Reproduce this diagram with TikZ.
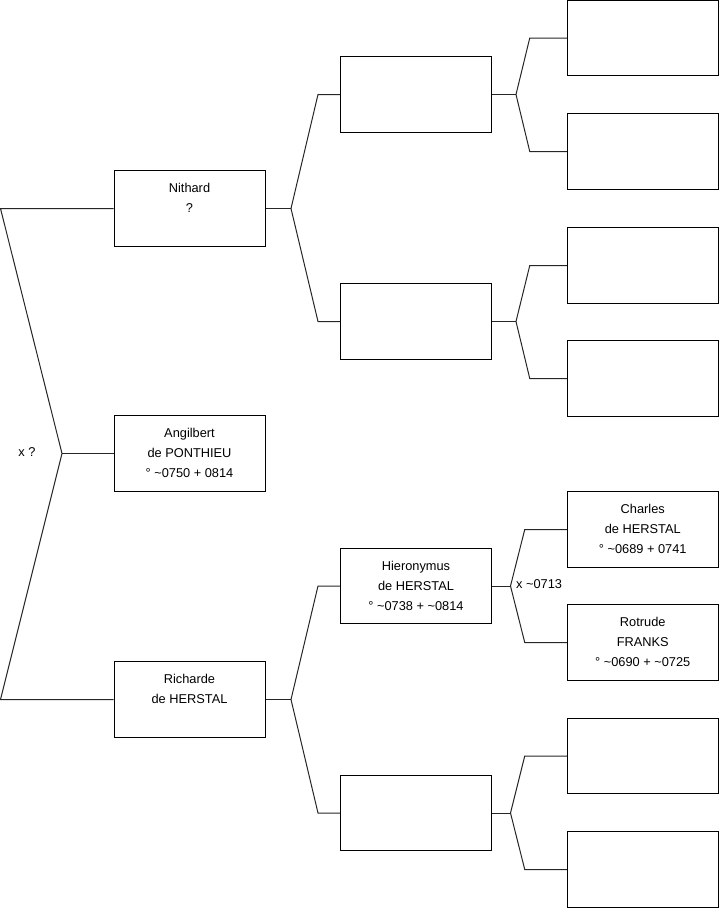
\documentclass[tikz,border=0pt]{standalone}
\usepackage{fontspec}
\setmainfont{Liberation Sans}
\begin{document}
\begin{tikzpicture}[x=1pt,y=-1pt,
  person/.style={draw=black, line width=1pt, minimum width=151pt, minimum height=75.5pt,
    inner sep=0pt, align=center, font=\fontsize{12.8}{20}\selectfont},
  link/.style={draw=black!85, line width=1pt},
  lbl/.style={font=\fontsize{12.8}{20}\selectfont, inner sep=0pt}]
\useasboundingbox (0,0) rectangle (719,908);
% column 1
\node[person] (n1) at (189.5,208.5) {\strut Nithard\\\strut ?\\\strut};
\node[person] (n2) at (189.5,453.5) {\strut Angilbert\\\strut de PONTHIEU\\\strut ° \textasciitilde0750 + 0814};
\node[person] (n3) at (189.5,699.5) {\strut Richarde\\\strut de HERSTAL\\\strut};
% column 2
\node[person] (m1) at (416,94.5) {};
\node[person] (m2) at (416,321.5) {};
\node[person] (m3) at (416,586) {\strut Hieronymus\\\strut de HERSTAL\\\strut ° \textasciitilde0738 + \textasciitilde0814};
\node[person] (m4) at (416,813) {};
% column 3
\node[person] (p1) at (642.75,38) {};
\node[person] (p2) at (642.75,151.5) {};
\node[person] (p3) at (642.75,265.5) {};
\node[person] (p4) at (642.75,378.5) {};
\node[person] (p5) at (642.75,529.5) {\strut Charles\\\strut de HERSTAL\\\strut ° \textasciitilde0689 + 0741};
\node[person] (p6) at (642.75,642.5) {\strut Rotrude\\\strut FRANKS\\\strut ° \textasciitilde0690 + \textasciitilde0725};
\node[person] (p7) at (642.75,756) {};
\node[person] (p8) at (642.75,869.5) {};
% labels
\node[lbl] (xq) at (27,452) {x ?};
\node[lbl,anchor=west] (xm) at (516,584) {x \textasciitilde0713};
% root connectors
\coordinate (r) at (62,453.5);
\draw[link] (n1.west) -- ([xshift=-113pt]n1.west) -- (r) -- ([xshift=-113pt]n3.west) -- (n3.west);
\draw[link] (r) -- (n2.west);
% column 1 -> 2
\coordinate (ja) at (291,208.5);
\draw[link] (n1.east) -- (ja);
\draw[link] (m1.west) -- ([xshift=-22pt]m1.west) -- (ja) -- ([xshift=-22pt]m2.west) -- (m2.west);
\coordinate (jb) at (291,699.5);
\draw[link] (n3.east) -- (jb);
\draw[link] (m3.west) -- ([xshift=-22pt]m3.west) -- (jb) -- ([xshift=-22pt]m4.west) -- (m4.west);
% column 2 -> 3
\coordinate (k1) at (516,94.5);
\draw[link] (m1.east) -- (k1);
\draw[link] (p1.west) -- ([xshift=-37pt]p1.west) -- (k1) -- ([xshift=-37pt]p2.west) -- (p2.west);
\coordinate (k2) at (516,321.5);
\draw[link] (m2.east) -- (k2);
\draw[link] (p3.west) -- ([xshift=-37pt]p3.west) -- (k2) -- ([xshift=-37pt]p4.west) -- (p4.west);
\coordinate (k3) at (510.5,586);
\draw[link] (m3.east) -- (k3);
\draw[link] (p5.west) -- ([xshift=-42pt]p5.west) -- (k3) -- ([xshift=-42pt]p6.west) -- (p6.west);
\coordinate (k4) at (510.5,813);
\draw[link] (m4.east) -- (k4);
\draw[link] (p7.west) -- ([xshift=-42pt]p7.west) -- (k4) -- ([xshift=-42pt]p8.west) -- (p8.west);
\end{tikzpicture}
\end{document}
